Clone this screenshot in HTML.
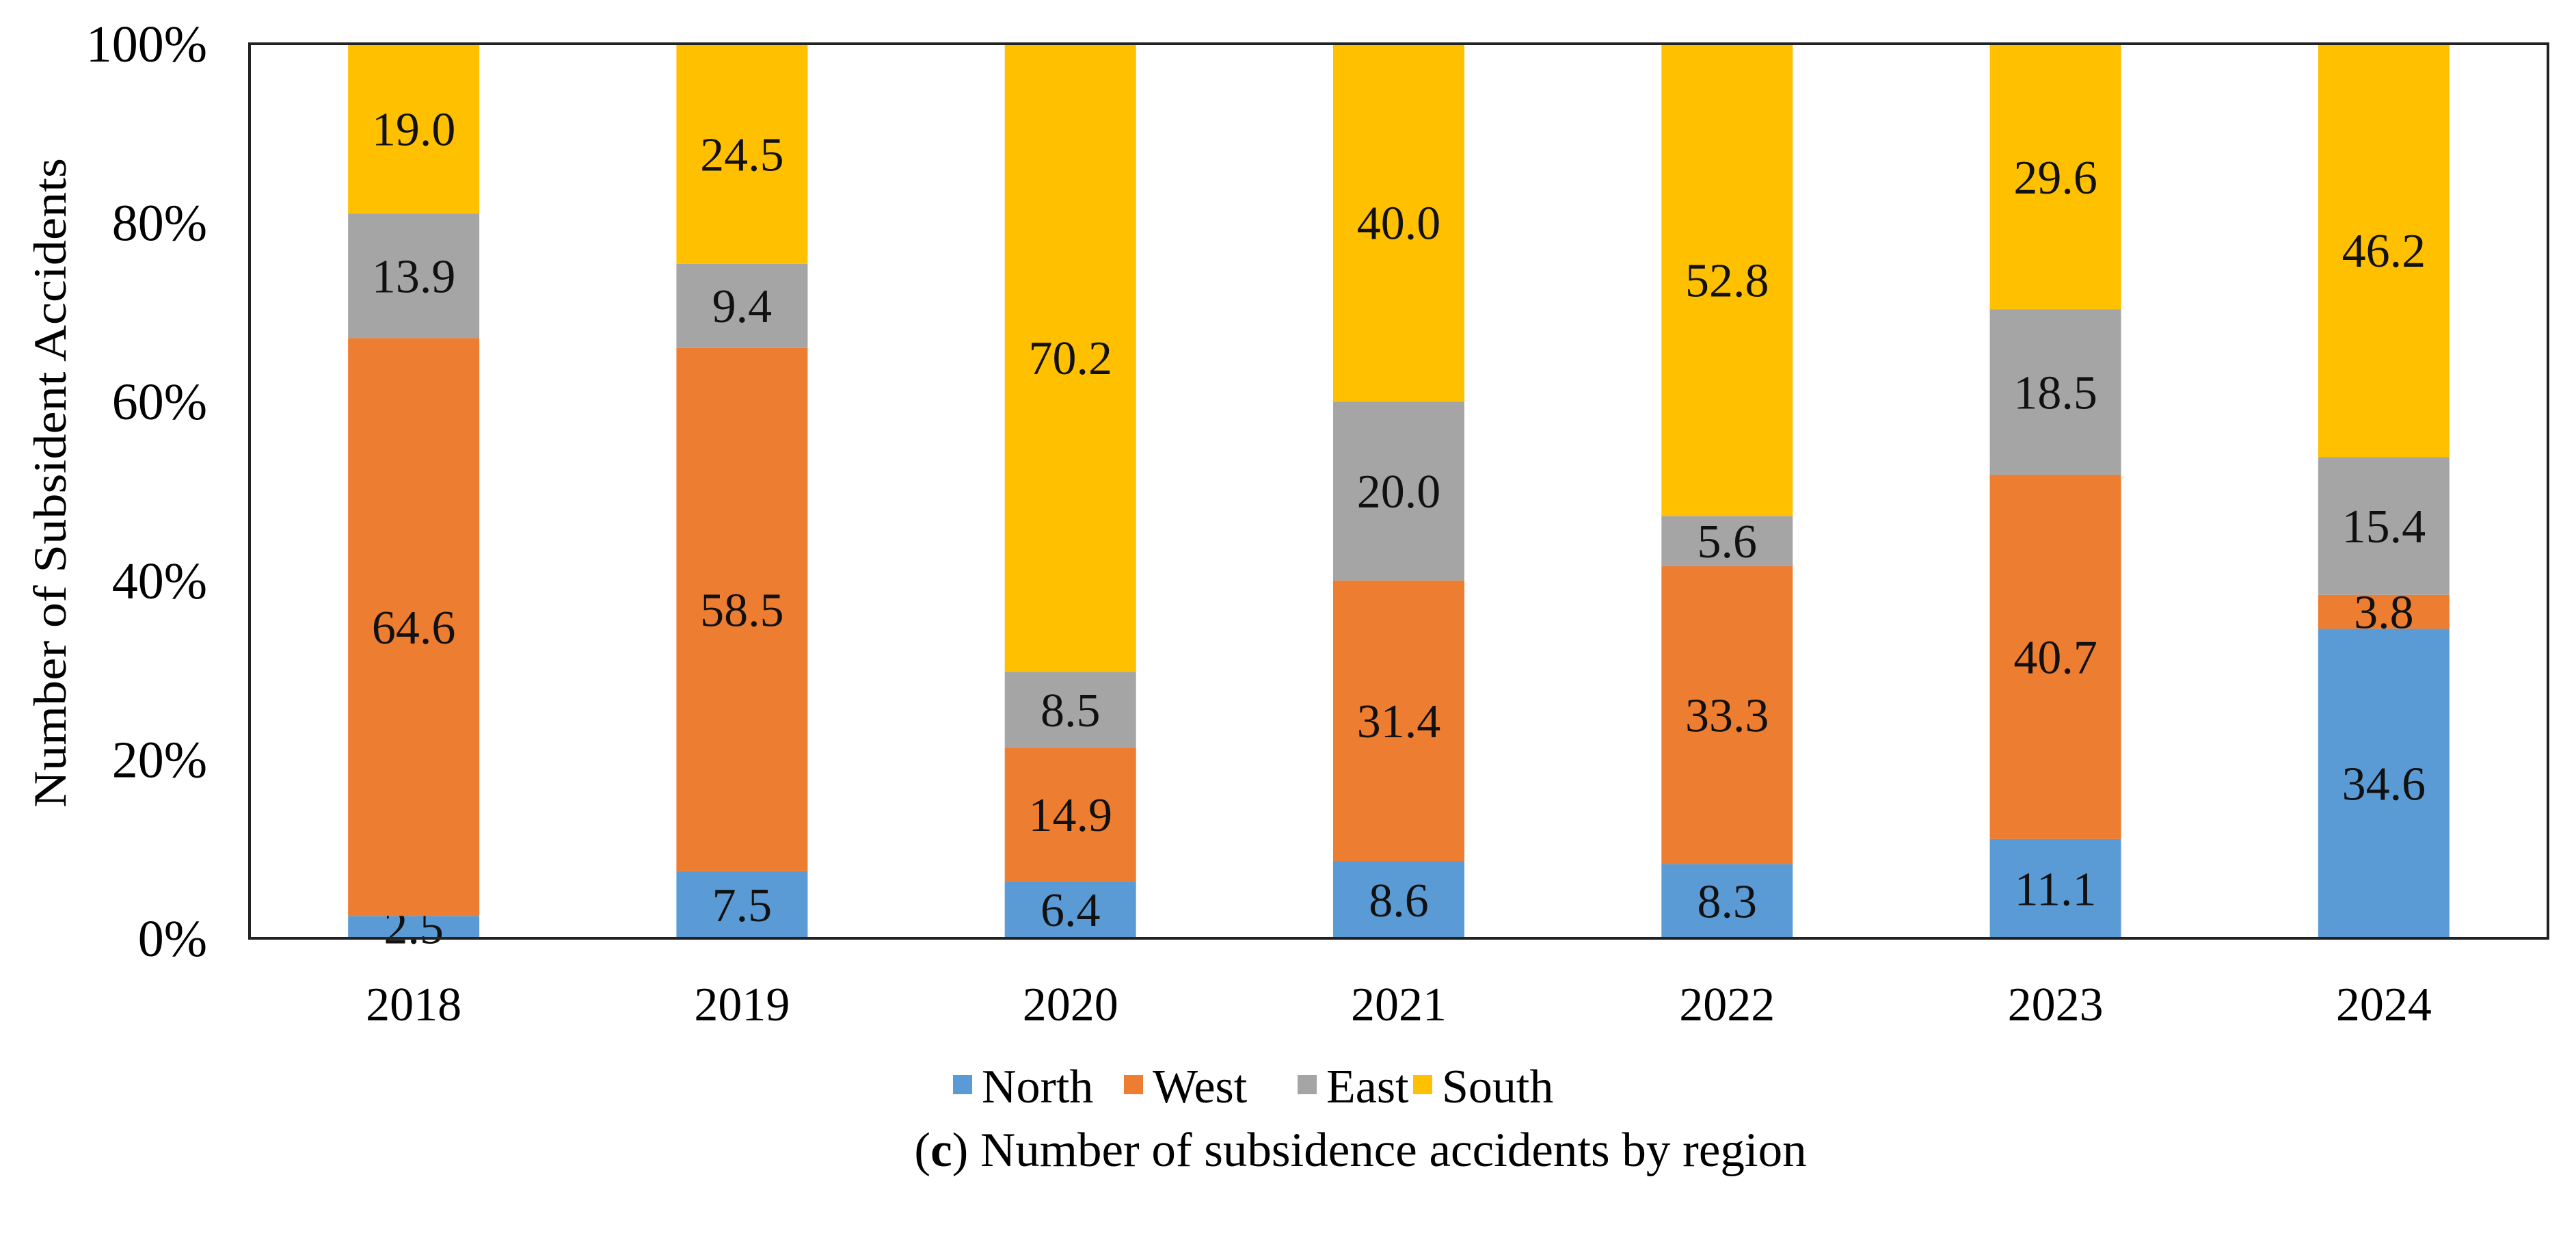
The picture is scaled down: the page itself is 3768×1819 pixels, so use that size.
<!DOCTYPE html>
<html><head><meta charset="utf-8"><style>
html,body{margin:0;padding:0;background:#fff;}
svg{display:block;font-family:"Liberation Serif",serif;}
</style></head><body>
<svg id="chart" width="3768" height="1819" viewBox="0 0 3768 1819" xmlns="http://www.w3.org/2000/svg">
<rect x="0" y="0" width="3768" height="1819" fill="#fff"/>
<g id="bars"></g>
<rect x="365" y="64" width="3362" height="1308" fill="none" stroke="#222" stroke-width="4"/>
<g id="yticks"></g>
<g id="xticks"></g>
<text transform="translate(96,706) rotate(-90)" text-anchor="middle" font-size="68" textLength="950" lengthAdjust="spacingAndGlyphs">Number of Subsident Accidents</text>
<g id="legend"></g>
<text x="1990" y="1705" text-anchor="middle" font-size="71">(<tspan font-weight="bold">c</tspan>) Number of subsidence accidents by region</text>
</svg>
<script>
const categories = ["2018","2019","2020","2021","2022","2023","2024"];
const seriesNames = ["North","West","East","South"];
const north = [2.5,7.5,6.4,8.6,8.3,11.1,34.6];
const west = [64.6,58.5,14.9,31.4,33.3,40.7,3.8];
const east = [13.9,9.4,8.5,20.0,5.6,18.5,15.4];
const south = [19.0,24.5,70.2,40.0,52.8,29.6,46.2];
const yTickLabels = ["0%","20%","40%","60%","80%","100%"];
const yTickValues = [0,20,40,60,80,100];

const colors = ["#5B9BD5","#ED7D31","#A5A5A5","#FFC000"];
const series = [north, west, east, south];
const NS = "http://www.w3.org/2000/svg";
const L = 365, R = 3727, T = 64, B = 1372;
const band = (R - L) / categories.length;
const barW = 192;
const y = v => B - (v / 100) * (B - T);
const xc = i => L + band * (i + 0.5);
function mk(tag, attrs, parent){ const e = document.createElementNS(NS, tag); for (const k in attrs) e.setAttribute(k, attrs[k]); parent.appendChild(e); return e; }

const gb = document.getElementById("bars");
categories.forEach((c, i) => {
  let acc = 0;
  series.forEach((s, si) => {
    const v = s[i];
    const y0 = y(acc), y1 = y(acc + v);
    const r = mk("rect", {x: xc(i) - barW/2, y: y1, width: barW, height: y0 - y1, fill: colors[si]}, gb);
    
    
    const t = mk("text", {x: xc(i), y: (y0 + y1)/2 + 24, "text-anchor": "middle", "font-size": 70, fill: "#111"}, gb);
    t.textContent = v.toFixed(1);
    
    
    acc += v;
  });
});
const gy = document.getElementById("yticks");
yTickValues.forEach((v, i) => {
  const t = mk("text", {x: 303, y: y(v) + 26, "text-anchor": "end", "font-size": 76}, gy);
  t.textContent = yTickLabels[i];
  
  
});
const gx = document.getElementById("xticks");
categories.forEach((c, i) => {
  const t = mk("text", {x: xc(i), y: 1492, "text-anchor": "middle", "font-size": 70}, gx);
  t.textContent = c;
  
  
});
const gl = document.getElementById("legend");
const legX = [1394, 1644, 1898, 2067];
seriesNames.forEach((n, i) => {
  const r = mk("rect", {x: legX[i], y: 1572, width: 28, height: 28, fill: colors[i]}, gl);
  
  
  const t = mk("text", {x: legX[i] + 42, y: 1612, "font-size": 70}, gl);
  t.textContent = n;
  
  
});
</script>
</body></html>
